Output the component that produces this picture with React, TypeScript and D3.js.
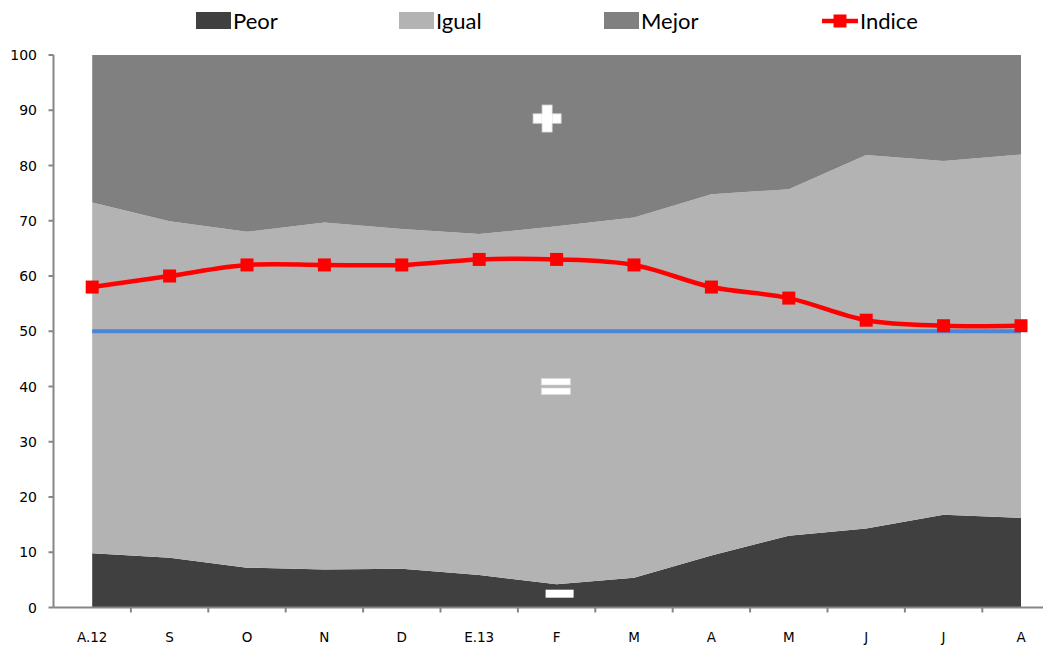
import { useEffect, useRef } from "react";
import * as d3 from "d3";

const meses = ["A.12", "S", "O", "N", "D", "E.13", "F", "M", "A", "M", "J", "J", "A"];
const peor = [9.8, 9.0, 7.2, 6.9, 7.0, 5.9, 4.2, 5.4, 9.4, 13.0, 14.3, 16.8, 16.2];
const igual = [63.5, 60.9, 60.8, 62.8, 61.5, 61.7, 64.8, 65.2, 65.4, 62.7, 67.6, 64.0, 65.8];
const mejor = peor.map((p, i) => +(100 - p - igual[i]).toFixed(1));
const indice = [58, 60, 62, 62, 62, 63, 63, 62, 58, 56, 52, 51, 51];
const ticksY = [0, 10, 20, 30, 40, 50, 60, 70, 80, 90, 100];
const referencia = 50;

const COLORES = { Peor: "#404040", Igual: "#b3b3b3", Mejor: "#808080" };

export default function App() {
  const svgRef = useRef<SVGSVGElement>(null);
  const ANCHO = 1043;
  const ALTO = 645;

  useEffect(() => {
    if (!svgRef.current) return;
    const svg = d3.select(svgRef.current);
    svg.selectAll("*").remove();

    const ejeX0 = 53.5;
    const paso = 77.4;
    const x = d3
      .scaleBand()
      .domain(meses.map((m, i) => `${i}`))
      .range([ejeX0, ejeX0 + paso * meses.length]);
    const cx = (i: number) => (x(`${i}`) || 0) + x.bandwidth() / 2;
    const y = d3.scaleLinear().domain([0, 100]).range([607.5, 55]);

    const filas = meses.map((m, i) => ({ i, Peor: peor[i], Igual: igual[i], Mejor: mejor[i] }));
    const stack = d3.stack<any>().keys(["Peor", "Igual", "Mejor"])(filas);

    const area = d3
      .area<any>()
      .x((d) => cx(d.data.i))
      .y0((d) => y(d[0]))
      .y1((d) => y(d[1]));

    svg
      .append("g")
      .selectAll("path")
      .data(stack)
      .enter()
      .append("path")
      .attr("d", (s) => area(s) as string)
      .attr("fill", (s) => (COLORES as any)[s.key]);

    // signos blancos
    const blanco = svg.append("g").attr("fill", "#ffffff").attr("stroke", "#d9d9d9").attr("stroke-width", 0.8);
    const px = cx(6) - 9.5;
    const py = y(88.5);
    blanco.append("rect").attr("x", px - 14).attr("y", py - 4.7).attr("width", 28).attr("height", 9.4);
    blanco.append("rect").attr("x", px - 5).attr("y", py - 13.5).attr("width", 10).attr("height", 27);
    blanco.append("rect").attr("x", px - 5).attr("y", py - 4.7).attr("width", 10).attr("height", 9.4).attr("stroke", "none");
    const ex = cx(6) - 0.8;
    const ey = y(40);
    blanco.append("rect").attr("x", ex - 14.5).attr("y", ey - 8).attr("width", 29).attr("height", 6.5);
    blanco.append("rect").attr("x", ex - 14.5).attr("y", ey + 1.5).attr("width", 29).attr("height", 6.5);
    const mx = cx(6) + 3;
    const my = y(2.5);
    blanco.append("rect").attr("x", mx - 14).attr("y", my - 4).attr("width", 28).attr("height", 8).attr("stroke", "none");

    // línea de referencia
    svg
      .append("line")
      .attr("x1", cx(0))
      .attr("x2", cx(meses.length - 1))
      .attr("y1", y(referencia))
      .attr("y2", y(referencia))
      .attr("stroke", "#4a86d8")
      .attr("stroke-width", 4);

    // ejes
    const gris = "#868686";
    svg
      .append("line")
      .attr("x1", ejeX0)
      .attr("x2", ANCHO)
      .attr("y1", y(0))
      .attr("y2", y(0))
      .attr("stroke", gris)
      .attr("stroke-width", 2);
    svg
      .append("line")
      .attr("x1", ejeX0)
      .attr("x2", ejeX0)
      .attr("y1", y(0))
      .attr("y2", y(100))
      .attr("stroke", gris)
      .attr("stroke-width", 2);

    svg
      .append("g")
      .selectAll("line")
      .data(meses.map((m, i) => i + 1))
      .enter()
      .append("line")
      .attr("x1", (i) => ejeX0 + i * x.bandwidth())
      .attr("x2", (i) => ejeX0 + i * x.bandwidth())
      .attr("y1", y(0))
      .attr("y2", y(0) + 5)
      .attr("stroke", gris)
      .attr("stroke-width", 2);

    svg
      .append("g")
      .selectAll("line")
      .data(ticksY)
      .enter()
      .append("line")
      .attr("x1", ejeX0 - 5)
      .attr("x2", ejeX0)
      .attr("y1", (d) => y(d))
      .attr("y2", (d) => y(d))
      .attr("stroke", gris)
      .attr("stroke-width", 2);

    svg
      .append("g")
      .selectAll("text")
      .data(ticksY)
      .enter()
      .append("text")
      .attr("x", 37)
      .attr("y", (d) => y(d))
      .attr("dy", "0.36em")
      .attr("text-anchor", "end")
      .attr("font-family", "DejaVu Sans, Verdana, sans-serif")
      .attr("font-size", 14)
      .attr("fill", "#000")
      .text((d) => d);

    svg
      .append("g")
      .selectAll("text")
      .data(meses)
      .enter()
      .append("text")
      .attr("x", (m, i) => cx(i))
      .attr("y", 641.5)
      .attr("text-anchor", "middle")
      .attr("font-family", "DejaVu Sans, Verdana, sans-serif")
      .attr("font-size", 13.5)
      .attr("fill", "#000")
      .text((m) => m);

    // índice
    const linea = d3
      .line<number>()
      .x((d, i) => cx(i))
      .y((d) => y(d))
      .curve(d3.curveCatmullRom.alpha(0.5));
    svg
      .append("path")
      .attr("d", linea(indice) as string)
      .attr("fill", "none")
      .attr("stroke", "#ff0000")
      .attr("stroke-width", 4.5);
    svg
      .append("g")
      .selectAll("rect")
      .data(indice)
      .enter()
      .append("rect")
      .attr("x", (d, i) => cx(i) - 6.5)
      .attr("y", (d) => y(d) - 6.5)
      .attr("width", 13)
      .attr("height", 13)
      .attr("fill", "#ff0000");

    // leyenda
    const leyenda = [
      { nombre: "Peor", x: 196, color: COLORES.Peor },
      { nombre: "Igual", x: 399, color: COLORES.Igual },
      { nombre: "Mejor", x: 604, color: COLORES.Mejor },
    ];
    const gl = svg.append("g");
    leyenda.forEach((l) => {
      gl.append("rect").attr("x", l.x).attr("y", 12).attr("width", 35).attr("height", 17).attr("fill", l.color);
      gl.append("text")
        .attr("x", l.x + 37)
        .attr("y", 29)
        .attr("font-family", "Lato, sans-serif")
        .attr("font-size", 22)
        .attr("fill", "#000")
        .text(l.nombre);
    });
    gl.append("line").attr("x1", 822).attr("x2", 858).attr("y1", 21).attr("y2", 21).attr("stroke", "#ff0000").attr("stroke-width", 4.5);
    gl.append("rect").attr("x", 833.5).attr("y", 14.5).attr("width", 13).attr("height", 13).attr("fill", "#ff0000");
    gl.append("text")
      .attr("x", 860)
      .attr("y", 29)
      .attr("font-family", "Lato, sans-serif")
      .attr("font-size", 22)
      .attr("fill", "#000")
      .text("Indice");
  }, []);

  return (
    <svg
      ref={svgRef}
      width={ANCHO}
      height={ALTO}
      viewBox={`0 0 ${ANCHO} ${ALTO}`}
      style={{ position: "absolute", left: 0, top: 0, background: "#fff" }}
    />
  );
}
